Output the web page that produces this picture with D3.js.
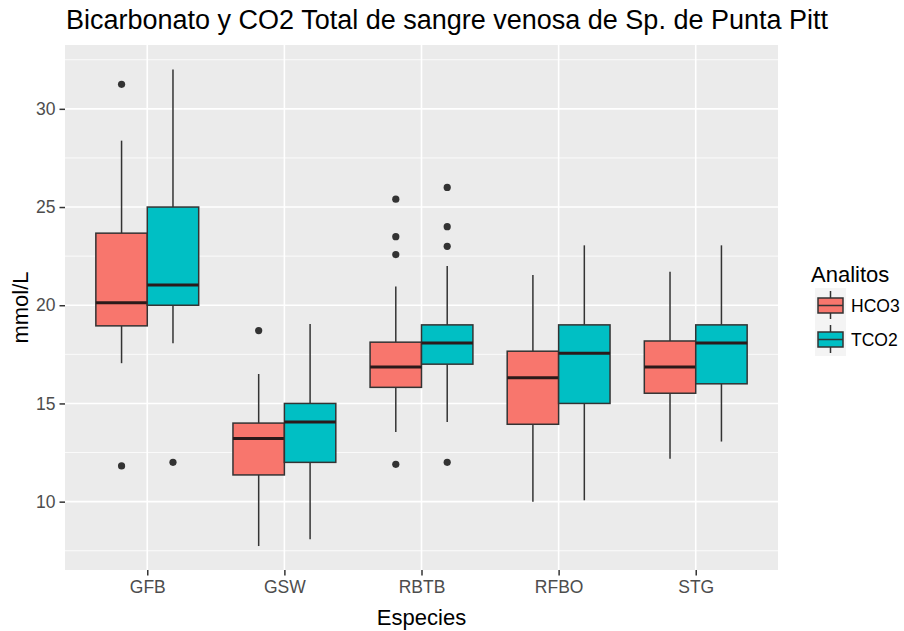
<!DOCTYPE html>
<html>
<head>
<meta charset="utf-8">
<title>Bicarbonato y CO2 Total</title>
<script src="https://cdn.jsdelivr.net/npm/d3@7"></script>
<style>
  body { margin: 0; background: #fff; }
  text { font-family: "Liberation Sans", Arial, sans-serif; }
</style>
</head>
<body>
<script>
// categories
var species = ["GFB", "GSW", "RBTB", "RFBO", "STG"];
var analytes = ["HCO3", "TCO2"];
var colors = ["#F8766D", "#00BFC4"];

// five numbers per box: [lower whisker, q1, median, q3, upper whisker]
var hco3Stats = [
  [17.05, 18.95, 20.13, 23.67, 28.38],
  [7.74, 11.36, 13.21, 14.0, 16.5],
  [13.54, 15.82, 16.86, 18.12, 20.95],
  [10.0, 13.94, 16.31, 17.66, 21.54],
  [12.19, 15.52, 16.86, 18.18, 21.7]
];
var tco2Stats = [
  [18.07, 20, 21.03, 25, 32.0],
  [8.09, 12, 14.06, 15, 19.05],
  [14.06, 17, 18.08, 19, 22.0],
  [10.07, 15, 17.56, 19, 23.05],
  [13.06, 16, 18.08, 19, 23.05]
];
var hco3Outliers = [[31.25, 11.82], [18.71], [25.4, 23.49, 22.58, 11.9], [], []];
var tco2Outliers = [[12], [], [26, 24, 23, 12], [], []];

var yTicks = [10, 15, 20, 25, 30];
var yMinor = [7.5, 12.5, 17.5, 22.5, 27.5, 32.5];

var W = 904, H = 631;
var panel = { left: 65, right: 778, top: 45, bottom: 570 };

var svg = d3.select("body").append("svg")
  .attr("width", W).attr("height", H);

var x = d3.scalePoint().domain(species)
  .range([panel.left, panel.right]).padding(0.6);
var step = x.step();
var xSub = d3.scaleBand().domain(analytes)
  .range([-0.375 * step, 0.375 * step]);
var y = d3.scaleLinear().domain([6.52, 33.25])
  .range([panel.bottom, panel.top]);

// panel background + grid
svg.append("rect")
  .attr("x", panel.left).attr("y", panel.top)
  .attr("width", panel.right - panel.left)
  .attr("height", panel.bottom - panel.top)
  .attr("fill", "#EBEBEB");

svg.append("g").selectAll("line").data(yMinor).enter().append("line")
  .attr("x1", panel.left).attr("x2", panel.right)
  .attr("y1", function (d) { return y(d); }).attr("y2", function (d) { return y(d); })
  .attr("stroke", "#fff").attr("stroke-width", 0.8);

svg.append("g").selectAll("line").data(yTicks).enter().append("line")
  .attr("x1", panel.left).attr("x2", panel.right)
  .attr("y1", function (d) { return y(d); }).attr("y2", function (d) { return y(d); })
  .attr("stroke", "#fff").attr("stroke-width", 1.6);

svg.append("g").selectAll("line").data(species).enter().append("line")
  .attr("y1", panel.top).attr("y2", panel.bottom)
  .attr("x1", function (d) { return x(d); }).attr("x2", function (d) { return x(d); })
  .attr("stroke", "#fff").attr("stroke-width", 1.6);

// axes
var yAxis = svg.append("g")
  .attr("transform", "translate(" + panel.left + ",0)")
  .call(d3.axisLeft(y).tickValues(yTicks).tickSize(5.5).tickPadding(4));
var xAxis = svg.append("g")
  .attr("transform", "translate(0," + panel.bottom + ")")
  .call(d3.axisBottom(x).tickSize(5.5).tickPadding(5));
[yAxis, xAxis].forEach(function (a) {
  a.select(".domain").remove();
  a.selectAll(".tick line").attr("stroke", "#333").attr("stroke-width", 1.5);
  a.selectAll(".tick text").attr("fill", "#4D4D4D")
    .style("font-size", "17.5px").style("font-family", "Liberation Sans, Arial, sans-serif");
});

// boxes
var boxes = [];
species.forEach(function (s, i) {
  boxes.push({ sp: s, an: "HCO3", col: colors[0], st: hco3Stats[i], out: hco3Outliers[i] });
  boxes.push({ sp: s, an: "TCO2", col: colors[1], st: tco2Stats[i], out: tco2Outliers[i] });
});

var bw = xSub.bandwidth();
var gb = svg.append("g").selectAll("g").data(boxes).enter().append("g")
  .attr("transform", function (d) { return "translate(" + (x(d.sp) + xSub(d.an)) + ",0)"; });

gb.append("line")
  .attr("x1", bw / 2).attr("x2", bw / 2)
  .attr("y1", function (d) { return y(d.st[0]); })
  .attr("y2", function (d) { return y(d.st[1]); })
  .attr("stroke", "#333").attr("stroke-width", 1.5);
gb.append("line")
  .attr("x1", bw / 2).attr("x2", bw / 2)
  .attr("y1", function (d) { return y(d.st[3]); })
  .attr("y2", function (d) { return y(d.st[4]); })
  .attr("stroke", "#333").attr("stroke-width", 1.5);
gb.append("rect")
  .attr("x", 0).attr("width", bw)
  .attr("y", function (d) { return y(d.st[3]); })
  .attr("height", function (d) { return y(d.st[1]) - y(d.st[3]); })
  .attr("fill", function (d) { return d.col; })
  .attr("stroke", "#333").attr("stroke-width", 1.5);
gb.append("line")
  .attr("x1", 0).attr("x2", bw)
  .attr("y1", function (d) { return y(d.st[2]); })
  .attr("y2", function (d) { return y(d.st[2]); })
  .attr("stroke", "#2b1a1a").attr("stroke-width", 3);
gb.selectAll("circle").data(function (d) { return d.out; }).enter().append("circle")
  .attr("cx", bw / 2).attr("cy", function (v) { return y(v); })
  .attr("r", 3.6).attr("fill", "#333");

// titles
svg.append("text").attr("x", 66).attr("y", 29)
  .style("font-size", "27px").attr("fill", "#000")
  .text("Bicarbonato y CO2 Total de sangre venosa de Sp. de Punta Pitt");
svg.append("text")
  .attr("x", (panel.left + panel.right) / 2).attr("y", 625)
  .attr("text-anchor", "middle").style("font-size", "22px")
  .text("Especies");
svg.append("text")
  .attr("transform", "translate(28," + ((panel.top + panel.bottom) / 2) + ") rotate(-90)")
  .attr("text-anchor", "middle").style("font-size", "22px")
  .text("mmol/L");

// legend
var leg = svg.append("g");
leg.append("text").attr("x", 811).attr("y", 282)
  .style("font-size", "22px").text("Analitos");
var keys = leg.selectAll("g.key").data(analytes).enter().append("g")
  .attr("class", "key")
  .attr("transform", function (d, i) { return "translate(815," + (288 + i * 34) + ")"; });
keys.append("rect").attr("width", 31).attr("height", 34).attr("fill", "#F4F4F4");
keys.append("line").attr("x1", 15.5).attr("x2", 15.5).attr("y1", 3).attr("y2", 31)
  .attr("stroke", "#333").attr("stroke-width", 1.5);
keys.append("rect").attr("x", 3).attr("width", 25).attr("y", 10).attr("height", 15)
  .attr("fill", function (d, i) { return colors[i]; })
  .attr("stroke", "#333").attr("stroke-width", 1.5);
keys.append("line").attr("x1", 3).attr("x2", 28).attr("y1", 17.5).attr("y2", 17.5)
  .attr("stroke", "#333").attr("stroke-width", 1.5);
keys.append("text").attr("x", 36).attr("y", 23.5)
  .style("font-size", "17.5px").text(function (d) { return d; });
</script>
</body>
</html>
